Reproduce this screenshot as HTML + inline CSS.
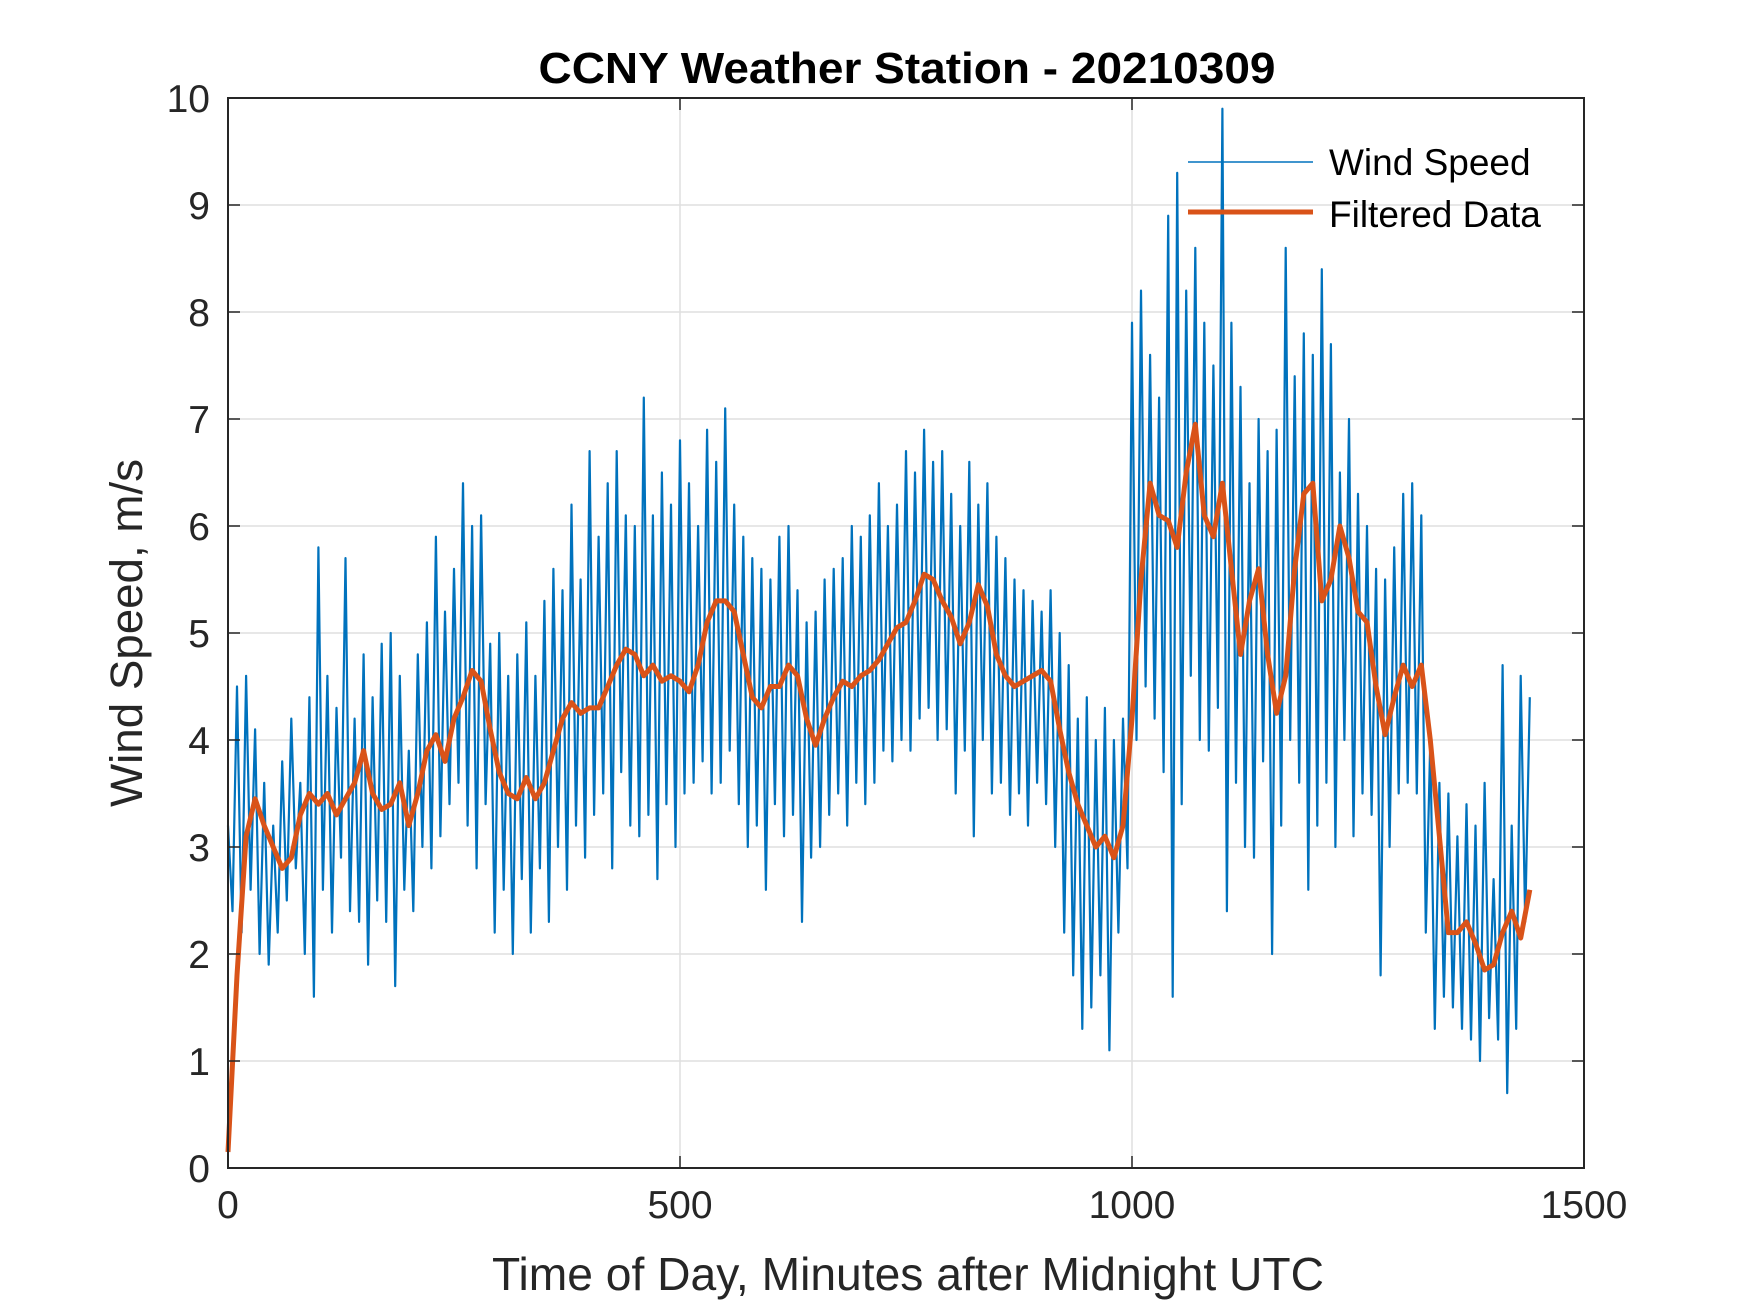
<!DOCTYPE html>
<html><head><meta charset="utf-8"><style>
html,body{margin:0;padding:0;background:#fff;}
svg{display:block;font-family:"Liberation Sans",Arial,sans-serif;}
</style></head><body>
<svg id="chart" width="1750" height="1313" viewBox="0 0 1750 1313" xmlns="http://www.w3.org/2000/svg">
<rect x="0" y="0" width="1750" height="1313" fill="#fff"/>
<g id="grid"></g>
<g id="series"></g>
<g id="axes"></g>
<text x="907" y="83" text-anchor="middle" font-weight="bold" font-size="44" textLength="737" lengthAdjust="spacingAndGlyphs" fill="#000">CCNY Weather Station - 20210309</text>
<text x="908" y="1290" text-anchor="middle" font-size="46" fill="#262626" textLength="832" lengthAdjust="spacingAndGlyphs">Time of Day, Minutes after Midnight UTC</text>
<text transform="translate(142,633) rotate(-90)" text-anchor="middle" font-size="45" fill="#262626" textLength="348" lengthAdjust="spacingAndGlyphs">Wind Speed, m/s</text>
<g>
<line x1="1188" y1="162" x2="1313" y2="162" stroke="#0072BD" stroke-width="1.5"/>
<text x="1329" y="175" font-size="37" fill="#000">Wind Speed</text>
<line x1="1188" y1="212" x2="1313" y2="212" stroke="#D95319" stroke-width="5"/>
<text x="1329" y="227" font-size="37" fill="#000">Filtered Data</text>
</g>
</svg>
<script>
const xTicks=[0,500,1000,1500];
const yTicks=[0,1,2,3,4,5,6,7,8,9,10];
const rawStep=5;
const rawValues=[3.2,2.4,4.5,2.2,4.6,2.6,4.1,2.0,3.6,1.9,3.2,
2.2,3.8,2.5,4.2,2.8,3.6,2.0,4.4,1.6,5.8,
2.6,4.6,2.2,4.3,2.9,5.7,2.4,4.2,2.3,4.8,
1.9,4.4,2.5,4.9,2.3,5.0,1.7,4.6,2.6,3.9,
2.4,4.8,3.0,5.1,2.8,5.9,3.1,5.2,3.4,5.6,
3.6,6.4,3.2,6.0,2.8,6.1,3.4,4.9,2.2,5.0,
2.6,4.6,2.0,4.8,2.7,5.1,2.2,4.6,2.8,5.3,
2.3,5.6,3.0,5.4,2.6,6.2,3.2,5.5,2.9,6.7,
3.3,5.9,3.5,6.4,2.8,6.7,3.7,6.1,3.2,6.0,
3.1,7.2,3.3,6.1,2.7,6.5,3.4,6.2,3.0,6.8,
3.5,6.4,3.6,6.0,3.8,6.9,3.5,6.6,3.6,7.1,
3.9,6.2,3.4,5.9,3.0,5.7,3.2,5.6,2.6,5.5,
3.4,5.9,3.1,6.0,3.3,5.4,2.3,5.1,2.9,5.2,
3.0,5.5,3.3,5.6,3.5,5.7,3.2,6.0,3.6,5.9,
3.4,6.1,3.6,6.4,3.9,6.0,3.8,6.2,4.0,6.7,
3.9,6.5,4.2,6.9,4.3,6.6,4.0,6.7,4.1,6.3,
3.5,6.0,3.9,6.6,3.1,6.2,4.0,6.4,3.5,5.9,
3.6,5.7,3.3,5.5,3.5,5.4,3.2,5.3,3.6,5.2,
3.4,5.4,3.0,5.0,2.2,4.7,1.8,4.2,1.3,4.4,
1.5,4.0,1.8,4.3,1.1,4.0,2.2,4.2,2.8,7.9,
4.0,8.2,4.5,7.6,4.2,7.2,3.7,8.9,1.6,9.3,
3.4,8.2,4.6,8.6,4.0,7.9,3.9,7.5,4.3,9.9,
2.4,7.9,3.6,7.3,3.0,6.4,2.9,7.0,3.8,6.7,
2.0,6.9,3.2,8.6,4.0,7.4,3.6,7.8,2.6,7.6,
3.2,8.4,3.6,7.7,3.0,6.5,4.0,7.0,3.1,6.3,
3.5,6.0,3.3,5.6,1.8,5.5,3.0,5.8,3.5,6.3,
3.6,6.4,3.5,6.1,2.2,4.0,1.3,3.6,1.6,3.5,
1.5,3.1,1.3,3.4,1.2,3.2,1.0,3.6,1.4,2.7,
1.2,4.7,0.7,3.2,1.3,4.6,2.3,4.4];
const filtStep=10;
const filtValues=[0.15,1.8,3.1,3.45,3.2,3.0,2.8,2.9,3.3,3.5,3.4,3.5,3.3,3.45,3.6,3.9,3.5,3.35,3.4,3.6,3.2,3.5,3.9,4.05,3.8,4.2,4.4,4.65,4.55,4.1,3.7,3.5,3.45,3.65,3.45,3.6,3.9,4.2,4.35,4.25,4.3,4.3,4.5,4.7,4.85,4.8,4.6,4.7,4.55,4.6,4.55,4.45,4.7,5.1,5.3,5.3,5.2,4.8,4.4,4.3,4.5,4.5,4.7,4.6,4.2,3.95,4.2,4.4,4.55,4.5,4.6,4.65,4.75,4.9,5.05,5.1,5.3,5.55,5.5,5.3,5.15,4.9,5.1,5.45,5.25,4.8,4.6,4.5,4.55,4.6,4.65,4.55,4.1,3.7,3.4,3.2,3.0,3.1,2.9,3.2,4.2,5.5,6.4,6.1,6.05,5.8,6.5,6.95,6.1,5.9,6.4,5.6,4.8,5.3,5.6,4.8,4.25,4.6,5.6,6.3,6.4,5.3,5.5,6.0,5.7,5.2,5.1,4.5,4.05,4.4,4.7,4.5,4.7,4.0,3.1,2.2,2.2,2.3,2.1,1.85,1.9,2.2,2.4,2.15,2.6];

const L=228,R=1584,T=98,B=1168;
const xs=v=>L+(v-0)/1500*(R-L);
const ys=v=>B-(v-0)/10*(B-T);
const NS="http://www.w3.org/2000/svg";
function mk(tag,parent){const e=document.createElementNS(NS,tag);parent.appendChild(e);return e;}
const grid=document.getElementById('grid'),series=document.getElementById('series'),axes=document.getElementById('axes');

xTicks.forEach(t=>{
  const g=mk('line',grid);g.setAttribute('x1',xs(t));g.setAttribute('x2',xs(t));g.setAttribute('y1',T);g.setAttribute('y2',B);g.setAttribute('stroke','#dfdfdf');g.setAttribute('stroke-width','1.5');
  
  
  [[B,B-12],[T,T+12]].forEach(p=>{const k=mk('line',axes);k.setAttribute('x1',xs(t));k.setAttribute('x2',xs(t));k.setAttribute('y1',p[0]);k.setAttribute('y2',p[1]);k.setAttribute('stroke','#262626');k.setAttribute('stroke-width','1.5');
  
  });
  const tx=mk('text',axes);tx.setAttribute('x',xs(t));tx.setAttribute('y',B+50);tx.setAttribute('text-anchor','middle');tx.setAttribute('font-size','39');tx.setAttribute('fill','#262626');tx.textContent=t;
  
  
});
yTicks.forEach(t=>{
  const g=mk('line',grid);g.setAttribute('x1',L);g.setAttribute('x2',R);g.setAttribute('y1',ys(t));g.setAttribute('y2',ys(t));g.setAttribute('stroke','#dfdfdf');g.setAttribute('stroke-width','1.5');
  
  
  [[L,L+12],[R,R-12]].forEach(p=>{const k=mk('line',axes);k.setAttribute('x1',p[0]);k.setAttribute('x2',p[1]);k.setAttribute('y1',ys(t));k.setAttribute('y2',ys(t));k.setAttribute('stroke','#262626');k.setAttribute('stroke-width','1.5');
  
  });
  const tx=mk('text',axes);tx.setAttribute('x',L-18);tx.setAttribute('y',ys(t)+14);tx.setAttribute('text-anchor','end');tx.setAttribute('font-size','39');tx.setAttribute('fill','#262626');tx.textContent=t;
  
  
});
const box=mk('rect',axes);box.setAttribute('x',L);box.setAttribute('y',T);box.setAttribute('width',R-L);box.setAttribute('height',B-T);box.setAttribute('fill','none');box.setAttribute('stroke','#262626');box.setAttribute('stroke-width','2');



const raw=mk('polyline',series);
raw.setAttribute('points',rawValues.map((v,i)=>xs(i*rawStep).toFixed(1)+','+ys(v).toFixed(1)).join(' '));
raw.setAttribute('fill','none');raw.setAttribute('stroke','#0072BD');raw.setAttribute('stroke-width','2.2');raw.setAttribute('stroke-linejoin','round');


const filt=mk('polyline',series);
filt.setAttribute('points',filtValues.map((v,i)=>xs(i*filtStep).toFixed(1)+','+ys(v).toFixed(1)).join(' '));
filt.setAttribute('fill','none');filt.setAttribute('stroke','#D95319');filt.setAttribute('stroke-width','5');filt.setAttribute('stroke-linejoin','round');


</script>
</body></html>
